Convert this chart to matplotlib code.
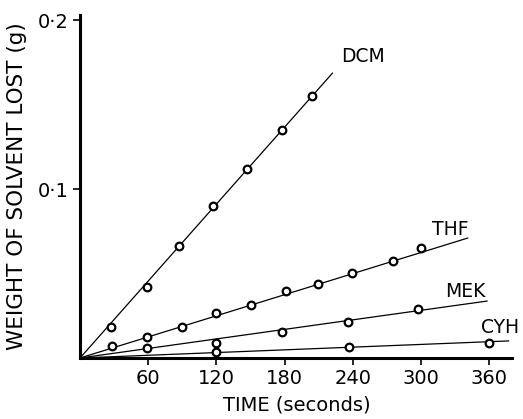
import matplotlib
matplotlib.use("Agg")
import matplotlib.pyplot as plt
import numpy as np

plt.rcParams['font.family'] = ['DejaVu Sans']

# measured points (time s, weight g)
dcm_t = [27, 59, 87, 117, 147, 178, 204]
dcm_w = [0.0183, 0.0420, 0.0663, 0.0899, 0.1118, 0.1349, 0.1550]
thf_t = [28, 59, 90, 120, 150, 181, 209, 239, 275, 300]
thf_w = [0.0071, 0.0124, 0.0183, 0.0266, 0.0314, 0.0396, 0.0438, 0.0503, 0.0574, 0.0651]
mek_t = [59, 120, 178, 236, 297]
mek_w = [0.0059, 0.0089, 0.0154, 0.0213, 0.0290]
cyh_t = [120, 237, 360]
cyh_w = [0.0036, 0.0065, 0.0089]

# fitted lines through origin: (end time, end weight)
fit_ends = {"DCM": (222, 0.1686), "THF": (341, 0.0710),
            "MEK": (358, 0.0337), "CYH": (377, 0.0101)}

x_ticks = [60, 120, 180, 240, 300, 360]
y_ticks = [0.1, 0.2]
y_ticklabels = ["0\u00b71", "0\u00b72"]

fig = plt.figure(figsize=(5.23, 4.19), dpi=100)
ax = fig.add_axes([0.153, 0.1456, 0.826, 0.8184])

for name in ["DCM", "THF", "MEK", "CYH"]:
    te, we = fit_ends[name]
    ax.plot([0, te], [0, we], color="black", lw=0.9)

for t, w in [(dcm_t, dcm_w), (thf_t, thf_w), (mek_t, mek_w), (cyh_t, cyh_w)]:
    ax.plot(t, w, "o", ms=5.5, mfc="white", mec="black", mew=1.6, ls="none")

# curve labels
ax.text(230, 0.175, "DCM", fontsize=13.5)
ax.text(310, 0.0728, "THF", fontsize=13.5)
ax.text(321, 0.0361, "MEK", fontsize=13.5)
ax.text(353, 0.0148, "CYH", fontsize=13.5)

ax.set_xlim(0, 380)
ax.set_ylim(0, 0.203)
ax.set_xticks(x_ticks)
ax.set_yticks(y_ticks)
ax.set_yticklabels(y_ticklabels)
ax.tick_params(axis="both", direction="out", length=5, width=1.2, labelsize=14, pad=3)

for s in ["top", "right"]:
    ax.spines[s].set_visible(False)
ax.spines["left"].set_linewidth(2.2)
ax.spines["bottom"].set_linewidth(2.2)

ax.set_xlabel("TIME (seconds)", fontsize=14)
ax.set_ylabel("WEIGHT OF SOLVENT LOST (g)", fontsize=15.5)
ax.xaxis.set_label_coords(0.502, -0.108)
ax.yaxis.set_label_coords(-0.122, 0.5)

fig.savefig("out.png", dpi=100)
